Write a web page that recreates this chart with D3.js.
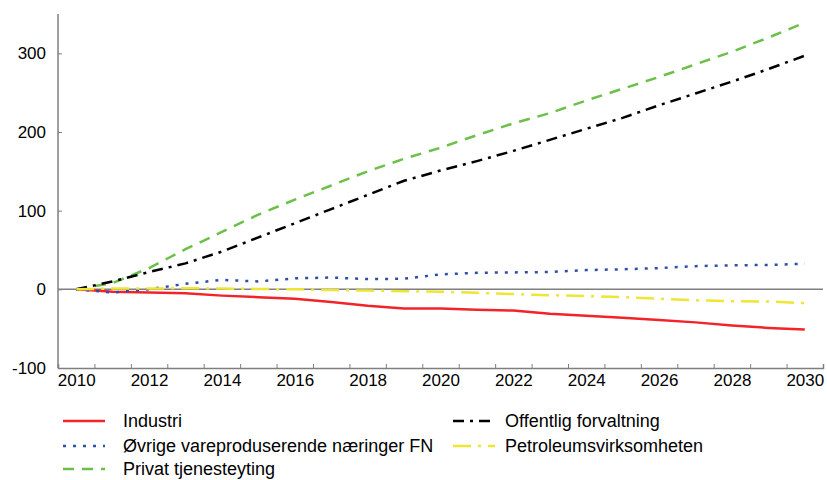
<!DOCTYPE html>
<html>
<head>
<meta charset="utf-8">
<script src="https://cdn.jsdelivr.net/npm/d3@7"></script>
<style>
  body { margin: 0; background: #fff; }
  svg text { font-family: "Liberation Sans", Arial, sans-serif; fill: #000; }
</style>
</head>
<body>
<svg id="chart" width="827" height="480"></svg>
<script>
var years = [2010, 2011, 2012, 2013, 2014, 2015, 2016, 2017, 2018, 2019, 2020,
  2021, 2022, 2023, 2024, 2025, 2026, 2027, 2028, 2029, 2030];
var industri = [0, -3, -4, -5, -8, -10, -12, -16, -21, -24.5, -24.5, -26, -27, -31, -33.5, -36, -39, -42, -46, -49, -51];
var ovrige = [0, -4, 0, 7, 12, 10, 14, 15, 13, 13.5, 19, 21, 21.5, 22, 24.5, 25.5, 27, 29.5, 30.5, 31, 32.5];
var privat = [0, 8, 27, 51, 73, 95, 114, 132, 150, 166, 180, 196, 211, 224, 240, 255, 270, 286, 302, 320, 339];
var offentlig = [0, 10, 22, 33, 48, 66, 84, 102, 120, 138, 151, 163, 176, 190, 204, 218, 234, 249, 264, 280, 297];
var petroleum = [0, 1, 1, 1.5, 1, 0.5, 0, -1, -1.5, -2.5, -3, -4.5, -6, -7.5, -8.5, -10, -12, -14, -15, -15.5, -17.5];
var yTicks = [-100, 0, 100, 200, 300];

var series = [
  { name: "Industri", values: industri, color: "#f2242a", dash: null, col: 0, row: 0 },
  { name: "Øvrige vareproduserende næringer FN", values: ovrige, color: "#2f4fa6", dash: "3,7", col: 0, row: 1 },
  { name: "Privat tjenesteyting", values: privat, color: "#6cc04a", dash: "11,8", col: 0, row: 2 },
  { name: "Offentlig forvaltning", values: offentlig, color: "#000000", dash: "11,6,3,6", col: 1, row: 0 },
  { name: "Petroleumsvirksomheten", values: petroleum, color: "#eee535", dash: "18,7,3,7", col: 1, row: 1 }
];

var svg = d3.select("#chart"),
  MARGINS = { top: 14, right: 4, bottom: 112, left: 58 },
  WIDTH = 827, HEIGHT = 480;

var x = d3.scaleLinear()
  .domain([years[0] - 0.5, years[years.length - 1] + 0.5])
  .range([MARGINS.left, WIDTH - MARGINS.right]);

var y = d3.scaleLinear()
  .domain([-100, 350])
  .range([HEIGHT - MARGINS.bottom, MARGINS.top]);

var axisColor = "#7f7f7f";

// zero line
svg.append("line")
  .attr("x1", x.range()[0]).attr("x2", x.range()[1])
  .attr("y1", y(0)).attr("y2", y(0))
  .attr("stroke", axisColor).attr("stroke-width", 1.5);

// x axis: tick marks between years, labels every other year
var bounds = years.map(function (d) { return d - 0.5; }).concat([years[years.length - 1] + 0.5]);
var xAxis = svg.append("g")
  .attr("transform", "translate(0," + y(-100) + ")")
  .call(d3.axisBottom(x).tickValues(bounds).tickSize(-4).tickFormat(""));
xAxis.selectAll("line").attr("stroke", axisColor);
xAxis.select(".domain").attr("stroke", axisColor).attr("stroke-width", 1.5);

var xLabels = svg.append("g")
  .attr("transform", "translate(0," + y(-100) + ")")
  .call(d3.axisBottom(x).tickValues(years.filter(function (d) { return d % 2 === 0; }))
    .tickSize(0).tickPadding(6).tickFormat(d3.format("d")));
xLabels.select(".domain").remove();
xLabels.selectAll("text").style("font-size", "17px").attr("fill", "#000");

// y axis
var yAxis = svg.append("g")
  .attr("transform", "translate(" + MARGINS.left + ",0)")
  .call(d3.axisLeft(y).tickValues(yTicks).tickSize(-4).tickPadding(12)
    .tickFormat(function (d) { return String(d); }));
yAxis.selectAll("line").attr("stroke", axisColor);
yAxis.select(".domain").attr("stroke", axisColor).attr("stroke-width", 1.5)
  .attr("d", "M0," + y(-100) + "V" + y(350));
yAxis.selectAll("text").style("font-size", "17px").attr("fill", "#000");

var lineFunc = d3.line()
  .x(function (d, i) { return x(years[i]); })
  .y(function (d) { return y(d); });

series.forEach(function (s) {
  svg.append("path")
    .attr("d", lineFunc(s.values))
    .attr("fill", "none")
    .attr("stroke", s.color)
    .attr("stroke-width", 2.5)
    .attr("stroke-dasharray", s.dash);
});

// legend
var legend = svg.append("g");
var colX = [63, 453], rowY = [421, 446, 469];
series.forEach(function (s) {
  var g = legend.append("g")
    .attr("transform", "translate(" + colX[s.col] + "," + rowY[s.row] + ")");
  g.append("line")
    .attr("x1", 0).attr("x2", 42).attr("y1", 0).attr("y2", 0)
    .attr("stroke", s.color).attr("stroke-width", 2.5)
    .attr("stroke-dasharray", s.dash);
  g.append("text")
    .attr("x", s.col === 0 ? 60 : 52).attr("y", 0).attr("dy", "0.35em")
    .style("font-size", "18px")
    .text(s.name);
});
</script>
</body>
</html>
